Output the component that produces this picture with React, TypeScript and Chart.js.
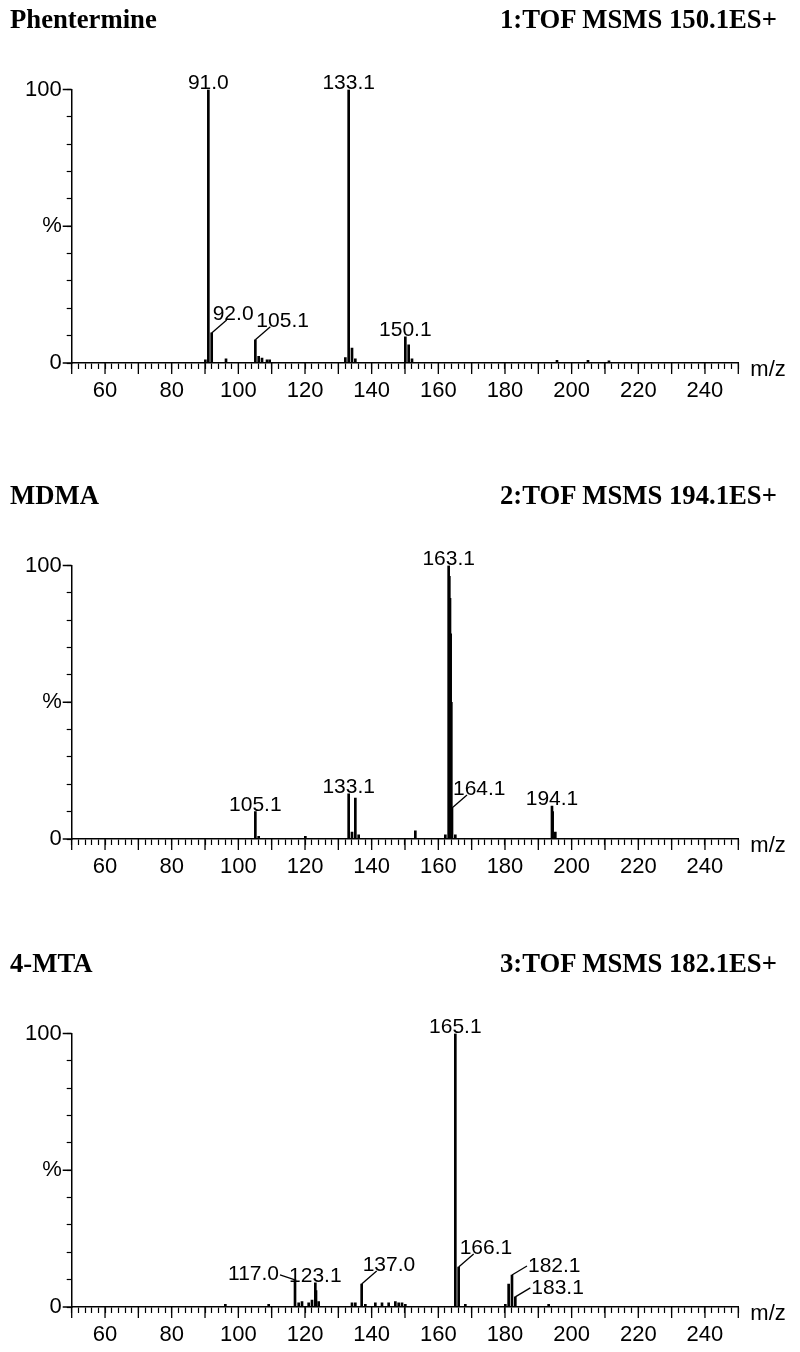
import React, { useEffect, useRef } from 'react';
import { Chart, registerables } from 'chart.js';

Chart.register(...registerables);

// ---------------- data ----------------
const compoundTitles = ['Phentermine', 'MDMA', '4-MTA'];
const scanTitles = ['1:TOF MSMS 150.1ES+', '2:TOF MSMS 194.1ES+', '3:TOF MSMS 182.1ES+'];
const xTickLabels = [60, 80, 100, 120, 140, 160, 180, 200, 220, 240];
const yTickValues = [0, 50, 100];
const yTickTexts = ['0', '%', '100'];
const xAxisTitle = 'm/z';

// Phentermine
const phentermineMz = [90.1, 91.0, 92.0, 96.3, 105.1, 106.1, 107.1, 108.6, 109.4, 132.1, 133.1, 134.1, 135.1, 150.1, 151.1, 152.1, 195.6, 204.9, 211.2];
const phentermineInt = [1.2, 100, 11.0, 1.5, 8.5, 2.4, 1.8, 1.2, 1.2, 2.0, 100, 5.5, 1.5, 9.6, 6.6, 1.5, 1.0, 1.0, 0.8];
const phentermineLabelMz = [91.0, 92.0, 105.1, 133.1, 150.1];
const phentermineLabelModes = ['above', 'upRight', 'upRight', 'above', 'above'];

// MDMA
const mdmaMz = [105.1, 106.1, 120.1, 133.1, 134.1, 135.1, 136.1, 153.1, 162.1, 163.1, 163.3, 163.5, 163.7, 163.9, 164.1, 165.1, 194.1, 194.3, 195.1];
const mdmaInt = [10.0, 1.0, 1.0, 16.5, 2.5, 15.0, 1.5, 3.0, 1.5, 100, 96, 88, 75, 50, 11.3, 1.5, 12.0, 10.0, 2.5];
const mdmaLabelMz = [105.1, 133.1, 163.1, 164.1, 194.1];
const mdmaLabelModes = ['above', 'above', 'above', 'upRight', 'above'];

// 4-MTA
const mtaMz = [96.1, 109.1, 117.0, 118.1, 119.1, 121.1, 122.1, 123.1, 123.3, 124.1, 134.1, 135.1, 137.0, 138.1, 141.1, 143.1, 145.1, 147.1, 148.1, 149.1, 150.1, 165.1, 166.1, 168.1, 180.1, 181.1, 182.1, 183.1, 193.1];
const mtaInt = [1.0, 1.0, 9.9, 1.5, 2.0, 1.5, 2.5, 8.8, 6.0, 2.0, 1.5, 1.5, 8.4, 1.0, 1.5, 1.5, 1.5, 2.0, 1.5, 1.5, 1.0, 100, 14.6, 1.0, 1.0, 8.4, 11.7, 3.7, 1.0];
const mtaLabelMz = [117.0, 123.1, 137.0, 165.1, 166.1, 182.1, 183.1];
const mtaLabelModes = ['left', 'above', 'upRight', 'above', 'upRight', 'right', 'right'];

const xMin = [50, 50, 50];
const xMax = 250;

// ---------------- layout ----------------
const PAGE_W = 800;
const PANEL_TOPS = [0, 476, 944];
const PANEL_HEIGHTS = [476, 468, 408];
const PLOT_TOP = 89.5;
const PLOT_BOTTOM = 363;
const PLOT_LEFT = 71.7;
const PLOT_RIGHT = 738.3;
const SANS = '"Liberation Sans", Arial, sans-serif';

const panels = [
  { mz: phentermineMz, inten: phentermineInt, labelMz: phentermineLabelMz, modes: phentermineLabelModes },
  { mz: mdmaMz, inten: mdmaInt, labelMz: mdmaLabelMz, modes: mdmaLabelModes },
  { mz: mtaMz, inten: mtaInt, labelMz: mtaLabelMz, modes: mtaLabelModes },
];

function makeOverlay(p: any) {
  return {
    id: 'msOverlay',
    afterDraw(chart: any) {
      const { ctx } = chart;
      const xs = chart.scales.x;
      const ys = chart.scales.y;
      const y0 = ys.getPixelForValue(0);
      ctx.save();
      ctx.strokeStyle = '#000';
      ctx.lineWidth = 1.3;
      ctx.beginPath();
      for (let v = 50; v <= 250; v += 10) {
        if (v < xs.min || v > xs.max) continue;
        const px = xs.getPixelForValue(v);
        ctx.moveTo(px, y0);
        ctx.lineTo(px, y0 + 11);
      }
      for (const v of yTickValues) {
        const py = ys.getPixelForValue(v);
        ctx.moveTo(xs.left - 9, py);
        ctx.lineTo(xs.left, py);
      }
      ctx.stroke();

      ctx.fillStyle = '#000';
      ctx.font = '22px ' + SANS;
      ctx.textAlign = 'left';
      ctx.textBaseline = 'alphabetic';
      ctx.fillText(xAxisTitle, xs.right + 12, y0 + 13);

      ctx.font = '21px ' + SANS;
      ctx.lineWidth = 1.3;
      p.labelMz.forEach((m: number, i: number) => {
        const k = p.mz.indexOf(m);
        const px = xs.getPixelForValue(m);
        const py = ys.getPixelForValue(p.inten[k]);
        const text = m.toFixed(1);
        const mode = p.modes[i];
        if (mode === 'above') {
          ctx.textAlign = 'center';
          ctx.textBaseline = 'alphabetic';
          ctx.fillText(text, px, py - 1);
        } else if (mode === 'upRight') {
          ctx.beginPath();
          ctx.moveTo(px, py);
          ctx.lineTo(px + 15, py - 13);
          ctx.stroke();
          ctx.textAlign = 'left';
          ctx.textBaseline = 'alphabetic';
          ctx.fillText(text, px + 1, py - 13);
        } else if (mode === 'right') {
          ctx.beginPath();
          ctx.moveTo(px, py);
          ctx.lineTo(px + 15, py - 9);
          ctx.stroke();
          ctx.textAlign = 'left';
          ctx.textBaseline = 'middle';
          ctx.fillText(text, px + 16, py - 9);
        } else if (mode === 'left') {
          ctx.beginPath();
          ctx.moveTo(px, py);
          ctx.lineTo(px - 15, py - 5);
          ctx.stroke();
          ctx.textAlign = 'right';
          ctx.textBaseline = 'middle';
          ctx.fillText(text, px - 16, py - 6);
        }
      });
      ctx.restore();
    },
  };
}

function SpectrumPanel({ index }: { index: number }) {
  const ref = useRef<HTMLCanvasElement | null>(null);
  const H = PANEL_HEIGHTS[index];
  useEffect(() => {
    const p = panels[index];
    const canvas = ref.current;
    if (!canvas) return;
    const chart = new Chart(canvas, {
      type: 'bar',
      data: {
        datasets: [
          {
            data: p.mz.map((m, i) => ({ x: m, y: p.inten[i] })),
            backgroundColor: '#000',
            borderWidth: 0,
            barThickness: 2,
            grouped: false,
          } as any,
        ],
      },
      options: {
        animation: false,
        responsive: false,
        maintainAspectRatio: false,
        devicePixelRatio: 1,
        layout: { padding: { top: PLOT_TOP, right: PAGE_W - PLOT_RIGHT, left: 0, bottom: 0 } },
        plugins: { legend: { display: false }, tooltip: { enabled: false }, title: { display: false } },
        scales: {
          x: {
            type: 'linear',
            min: xMin[index],
            max: xMax,
            offset: false,
            afterFit: (s: any) => { s.height = H - PLOT_BOTTOM; },
            border: { display: true, color: '#000', width: 1.5 },
            grid: { display: true, drawOnChartArea: false, drawTicks: true, tickLength: 6, tickColor: '#000', tickWidth: 1.2, offset: false },
            ticks: {
              stepSize: 2,
              maxTicksLimit: 1000,
              autoSkip: false,
              maxRotation: 0,
              minRotation: 0,
              padding: 9,
              color: '#000',
              font: { family: SANS, size: 22 },
              callback: (v: any) => (xTickLabels.some((t) => Math.abs(t - v) < 1e-6) ? String(Math.round(v)) : ''),
            },
          },
          y: {
            type: 'linear',
            min: 0,
            max: 100,
            afterFit: (s: any) => { s.width = PLOT_LEFT; },
            border: { display: true, color: '#000', width: 1.5 },
            grid: { display: true, drawOnChartArea: false, drawTicks: true, tickLength: 5, tickColor: '#000', tickWidth: 1.2 },
            ticks: {
              stepSize: 10,
              autoSkip: false,
              padding: 5,
              color: '#000',
              font: { family: SANS, size: 22 },
              callback: (v: any) => {
                const i = yTickValues.findIndex((t) => Math.abs(t - v) < 1e-6);
                return i >= 0 ? yTickTexts[i] : '';
              },
            },
          },
        },
      },
      plugins: [makeOverlay(p)],
    } as any);
    return () => chart.destroy();
  }, [index]);

  const titleStyle: React.CSSProperties = {
    position: 'absolute',
    top: 6,
    margin: 0,
    fontFamily: '"Liberation Serif", "Times New Roman", serif',
    fontWeight: 'bold',
    fontSize: 26.7,
    lineHeight: '26px',
    whiteSpace: 'nowrap',
    color: '#000',
  };

  return (
    <div style={{ position: 'absolute', left: 0, top: PANEL_TOPS[index], width: PAGE_W, height: H }}>
      <canvas ref={ref} width={PAGE_W} height={H} style={{ display: 'block', width: PAGE_W, height: H }} />
      <div style={{ ...titleStyle, left: 10 }}>{compoundTitles[index]}</div>
      <div style={{ ...titleStyle, left: 500 }}>{scanTitles[index]}</div>
    </div>
  );
}

export default function App() {
  return (
    <div style={{ position: 'absolute', left: 0, top: 0, width: PAGE_W, height: 1352, background: '#fff', overflow: 'hidden' }}>
      {[0, 1, 2].map((i) => (
        <SpectrumPanel key={i} index={i} />
      ))}
    </div>
  );
}
